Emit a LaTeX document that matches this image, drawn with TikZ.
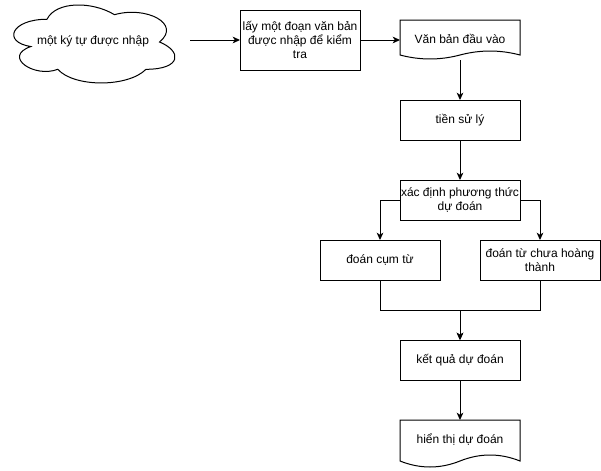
\documentclass[tikz,border=0pt]{standalone}
\usepackage{fontspec}
\setmainfont{Liberation Sans}
\usetikzlibrary{arrows.meta}
\begin{document}
\begin{tikzpicture}[x=0.75pt,y=-0.75pt,
  font=\fontsize{9}{10.8}\selectfont,
  line width=0.75pt,
  box/.style={draw, rectangle, inner sep=0pt, outer sep=0pt,
    minimum width=90pt, minimum height=30pt, align=center},
  docbox/.style={rectangle, inner sep=0pt, outer sep=0pt,
    minimum width=90pt, minimum height=30pt, align=center},
  flow/.style={-{Stealth[length=5.5pt,width=5pt,inset=1.6pt]}, line join=miter}]
\useasboundingbox (0,0) rectangle (601,471);

% start: cloud outline (box 2..182 x -3.5..87.5)
\begin{scope}[shift={(2,-3.5)}, x=1.35pt, y=-0.6825pt]
  \draw (25,25) .. controls (5,25) and (0,50) .. (16,55)
    .. controls (0,66) and (18,90) .. (31,80)
    .. controls (40,100) and (70,100) .. (80,80)
    .. controls (100,80) and (100,60) .. (87.5,50)
    .. controls (100,30) and (80,10) .. (62.5,20)
    .. controls (50,5) and (30,5) .. (25,25) -- cycle;
\end{scope}
\node[inner sep=0pt] (cloud) at (93,41) {một ký tự được nhập};
\coordinate (cloudout) at (190,40);

% process boxes
\node[box, minimum height=45pt] (take) at (300,40)
  {lấy một đoạn văn bản\\được nhập để kiểm\\tra};
\node[docbox] (input) at (460,40) {\raisebox{2pt}{Văn bản đầu vào}};
\node[box] (prep) at (460,120) {tiền sử lý};
\node[box] (mode) at (460,200) {xác định phương thức\\dự đoán};
\node[box] (phrase) at (380,260) {đoán cụm từ};
\node[box] (word) at (540,260) {đoán từ chưa hoàng\\thành};
\node[box] (result) at (460,360) {kết quả dự đoán};
\node[docbox] (show) at (460,440) {\raisebox{2pt}{hiển thị dự đoán}};

% document outlines with wavy bottom edge
\draw (400,20) -- (520,20) -- (520,55)
  .. controls (500,49.7) and (480,49.7) .. (460,55)
  .. controls (440,60.3) and (420,60.3) .. (400,55) -- cycle;
\draw (400,420) -- (520,420) -- (520,461)
  .. controls (500,453) and (480,453) .. (460,461)
  .. controls (440,469) and (420,469) .. (400,461) -- cycle;

% connectors
\draw[flow] (cloudout) -- (take.west);
\draw[flow] (take.east) -- (input.west);
\draw[flow] (input.south) -- (prep.north);
\draw[flow] (prep.south) -- (mode.north);
\draw[flow] (mode.west) -| (phrase.north);
\draw[flow] (mode.east) -| (word.north);
\draw[flow] (phrase.south) -- ++(0,30) -| (result.north);
\draw[flow] (word.south) -- ++(0,30) -| (result.north);
\draw[flow] (result.south) -- (show.north);
\end{tikzpicture}
\end{document}
